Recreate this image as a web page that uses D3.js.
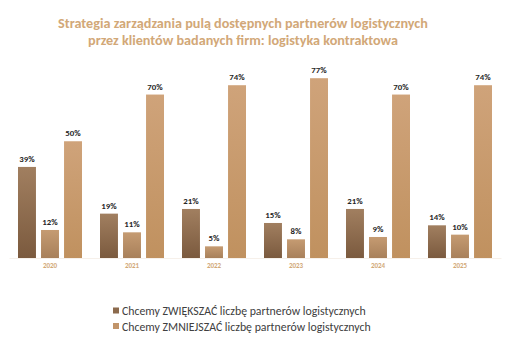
<!DOCTYPE html>
<html>
<head>
<meta charset="utf-8">
<script src="https://cdn.jsdelivr.net/npm/d3@7"></script>
<style>
  html, body { margin: 0; padding: 0; background: #ffffff; }
  svg { display: block; }
</style>
</head>
<body>
<svg id="chart" width="511" height="339"></svg>
<script>
// Years on the x axis
const years = ["2020", "2021", "2022", "2023", "2024", "2025"];
// Share of respondents (%) per strategy
const increaseValues = [39, 19, 21, 15, 21, 14];
const keepValues = [12, 11, 5, 8, 9, 10];
const decreaseValues = [50, 70, 74, 77, 70, 74];
const seriesNames = ["Chcemy ZWIĘKSZAĆ liczbę partnerów logistycznych", "", "Chcemy ZMNIEJSZAĆ liczbę partnerów logistycznych"];
const titleLines = [
  "Strategia zarządzania pulą dostępnych partnerów logistycznych",
  "przez klientów badanych firm: logistyka kontraktowa"
];

const svg = d3.select("#chart");
const font = "Carlito, 'Open Sans', 'Liberation Sans', sans-serif";

const seriesData = [increaseValues, keepValues, decreaseValues];
const gradStops = [
  ["#a17f60", "#7b5a3e"],
  ["#c59b72", "#a8805a"],
  ["#cfa37a", "#c0915f"]
];
const legendColors = ["#8c6a4d", "", "#c1946a"];

const defs = svg.append("defs");
gradStops.forEach((s, i) => {
  const g = defs.append("linearGradient").attr("id", "g" + i)
    .attr("x1", 0).attr("y1", 0).attr("x2", 0).attr("y2", 1);
  g.append("stop").attr("offset", "0%").attr("stop-color", s[0]);
  g.append("stop").attr("offset", "100%").attr("stop-color", s[1]);
});

const baseY = 258;
const x0 = d3.scaleBand().domain(years).range([9, 501]).paddingInner(0).paddingOuter(0);
const x1 = d3.scaleBand().domain([0, 1, 2]).range([9, x0.bandwidth() - 9]).paddingInner(0.22);
const y = d3.scaleLinear().domain([0, 100]).range([baseY, baseY - 233.5]);

// Title
svg.append("g").selectAll("text").data(titleLines).join("text")
  .attr("x", 243).attr("y", (d, i) => 28 + i * 17)
  .attr("text-anchor", "middle")
  .attr("font-family", font).attr("font-weight", "bold")
  .attr("font-size", 14.2).attr("fill", "#d2a878")
  .text(d => d);

// Bars grouped by year
const groups = svg.append("g").selectAll("g").data(years).join("g")
  .attr("transform", d => `translate(${x0(d)},0)`);

groups.each(function(yr, yi) {
  const g = d3.select(this);
  seriesData.forEach((vals, si) => {
    const v = vals[yi];
    g.append("rect")
      .attr("x", x1(si)).attr("width", x1.bandwidth())
      .attr("y", y(v)).attr("height", y(0) - y(v))
      .attr("fill", `url(#g${si})`);
    g.append("text")
      .attr("x", x1(si) + x1.bandwidth() / 2).attr("y", y(v) - 5)
      .attr("text-anchor", "middle")
      .attr("font-family", font).attr("font-weight", "bold")
      .attr("font-size", 8.8).attr("fill", "#262626")
      .text(v + "%");
  });
});

// Year labels
const xAxis = d3.axisBottom(x0).tickSize(0).tickPadding(5);
const axisG = svg.append("g").attr("transform", `translate(0,${baseY})`).call(xAxis);
axisG.select(".domain").attr("stroke", "#f6f0ea");
axisG.selectAll("text")
  .attr("font-family", font).attr("font-weight", "bold")
  .attr("font-size", 7).attr("fill", "#d2a878");

// Legend
const legendItems = seriesNames.map((n, i) => ({ n, c: legendColors[i] })).filter(d => d.n);
const leg = svg.append("g").selectAll("g").data(legendItems).join("g")
  .attr("transform", (d, i) => `translate(113,${311 + i * 15.5})`);
leg.append("rect").attr("x", 0).attr("y", -3.5).attr("width", 6).attr("height", 6).attr("fill", d => d.c);
leg.append("text").attr("x", 9).attr("y", 0).attr("dy", "0.35em")
  .attr("font-family", font).attr("font-size", 11.8).attr("fill", "#404040")
  .text(d => d.n);
</script>
</body>
</html>
